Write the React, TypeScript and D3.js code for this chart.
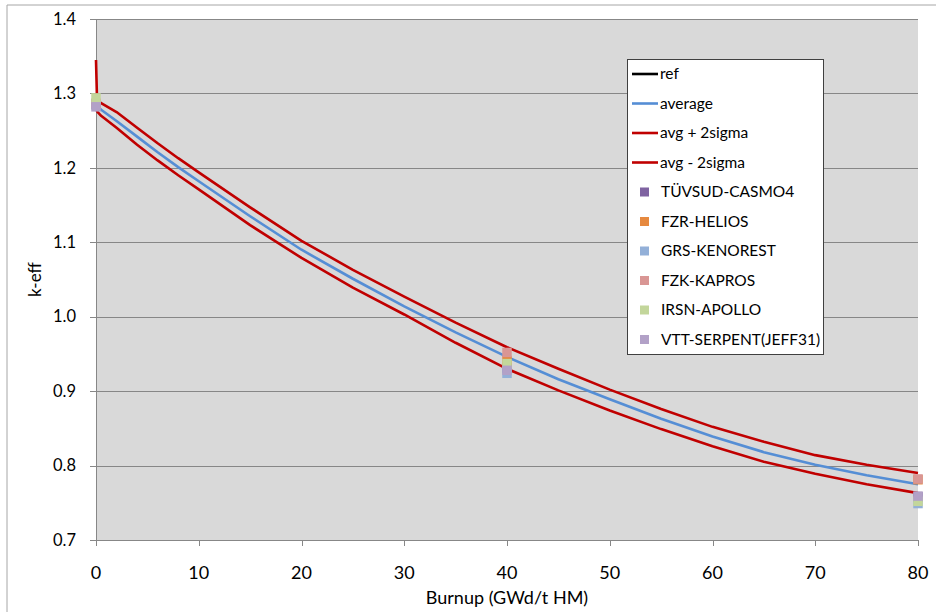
import React, { useEffect, useRef } from 'react';
import * as d3 from 'd3';

// burnup steps for the statistical curves
const burnup = [0, 0.1, 0.5, 2, 4, 6, 8, 10, 15, 20, 25, 30, 35, 40, 45, 50, 55, 60, 65, 70, 75, 80];
const average = [1.286, 1.283, 1.278, 1.263, 1.242, 1.221, 1.201, 1.182, 1.135, 1.090, 1.051, 1.014, 0.979, 0.946, 0.916, 0.889, 0.863, 0.839, 0.818, 0.801, 0.787, 0.775];
const upper = [1.345, 1.292, 1.287, 1.275, 1.254, 1.233, 1.213, 1.194, 1.147, 1.102, 1.063, 1.027, 0.992, 0.959, 0.930, 0.902, 0.876, 0.852, 0.832, 0.814, 0.801, 0.790];
const lower = [1.284, 1.276, 1.270, 1.254, 1.231, 1.210, 1.190, 1.171, 1.123, 1.079, 1.039, 1.003, 0.965, 0.930, 0.901, 0.874, 0.849, 0.826, 0.805, 0.789, 0.775, 0.763];

// code results at the three burnup points
const codeBurnup = [0, 40, 80];
const codes = ['TÜVSUD-CASMO4', 'FZR-HELIOS', 'GRS-KENOREST', 'FZK-KAPROS', 'IRSN-APOLLO', 'VTT-SERPENT(JEFF31)'];
const codeColors = ['#7f63a1', '#e6893f', '#93b0d8', '#d99694', '#c3d69b', '#b2a1c7'];
const codeValues = [
    [1.285, 0.931, 0.758],
    [1.286, 0.941, 0.781],
    [1.285, 0.924, 0.749],
    [1.287, 0.952, 0.782],
    [1.294, 0.937, 0.752],
    [1.282, 0.928, 0.759],
];

const lineNames = ['ref', 'average', 'avg + 2sigma', 'avg - 2sigma'];
const lineColors = ['#000000', '#558ed5', '#c00000', '#c00000'];

const xTicks = [0, 10, 20, 30, 40, 50, 60, 70, 80];
const yTicks = [0.7, 0.8, 0.9, 1.0, 1.1, 1.2, 1.3, 1.4];

const App = () => {
    const svgRef = useRef();
    const width = 936;
    const height = 612;
    const margin = { top: 19, left: 96, right: 18, bottom: 72 };
    const innerWidth = width - margin.left - margin.right;
    const innerHeight = height - margin.top - margin.bottom;

    useEffect(() => {
        const svg = d3.select(svgRef.current);
        svg.selectAll('*').remove();
        const font = 'Lato, "Open Sans", sans-serif';

        // outer chart border (only top & left visible)
        svg.append('path')
            .attr('d', `M7,${height + 2} L7,5 L${width + 2},5`)
            .attr('fill', 'none')
            .attr('stroke', '#a6a6a6');

        const g = svg.append('g').attr('transform', `translate(${margin.left},${margin.top})`);

        const x = d3.scaleLinear().domain([0, 80]).range([0, innerWidth]);
        const y = d3.scaleLinear().domain([0.7, 1.4]).range([innerHeight, 0]);

        g.append('rect')
            .attr('width', innerWidth)
            .attr('height', innerHeight)
            .attr('fill', '#d9d9d9');

        // grid lines + y ticks
        yTicks.forEach(t => {
            g.append('line')
                .attr('x1', -6).attr('x2', innerWidth)
                .attr('y1', Math.round(y(t)) + 0.5).attr('y2', Math.round(y(t)) + 0.5)
                .attr('stroke', '#878787');
            g.append('text')
                .attr('x', -20).attr('y', y(t))
                .attr('dy', '0.35em')
                .attr('text-anchor', 'end')
                .attr('font-family', font).attr('font-size', 16.5)
                .text(t.toFixed(1));
        });

        g.append('line')
            .attr('x1', 0.5).attr('x2', 0.5)
            .attr('y1', 0).attr('y2', innerHeight)
            .attr('stroke', '#878787');

        xTicks.forEach(t => {
            g.append('line')
                .attr('x1', Math.round(x(t)) + 0.5).attr('x2', Math.round(x(t)) + 0.5)
                .attr('y1', innerHeight).attr('y2', innerHeight + 6)
                .attr('stroke', '#878787');
            g.append('text')
                .attr('x', x(t)).attr('y', innerHeight + 33)
                .attr('dy', '0.35em')
                .attr('text-anchor', 'middle')
                .attr('font-family', font).attr('font-size', 18)
                .text(t);
        });

        // curves
        const line = d3.line()
            .x((d: any) => x(d[0]))
            .y((d: any) => y(d[1]));
        [[average, lineColors[1]], [upper, lineColors[2]], [lower, lineColors[3]]].forEach(([vals, color]: any) => {
            g.append('path')
                .datum(burnup.map((b, i) => [b, vals[i]]))
                .attr('fill', 'none')
                .attr('stroke', color)
                .attr('stroke-width', 2.6)
                .attr('stroke-linejoin', 'round')
                .attr('d', line as any);
        });

        // code markers
        const ms = 9.5;
        codes.forEach((c, ci) => {
            codeBurnup.forEach((b, bi) => {
                g.append('rect')
                    .attr('x', x(b) - ms / 2)
                    .attr('y', y(codeValues[ci][bi]) - ms / 2)
                    .attr('width', ms).attr('height', ms)
                    .attr('fill', codeColors[ci]);
            });
        });

        // axis titles
        svg.append('text')
            .attr('x', margin.left + innerWidth / 2).attr('y', 598)
            .attr('dy', '0.35em')
            .attr('text-anchor', 'middle')
            .attr('font-family', font).attr('font-size', 18)
            .text('Burnup (GWd/t HM)');
        svg.append('text')
            .attr('transform', `translate(35,${margin.top + innerHeight / 2}) rotate(-90)`)
            .attr('dy', '0.35em')
            .attr('text-anchor', 'middle')
            .attr('font-family', font).attr('font-size', 17)
            .text('k-eff');

        // legend
        const lg = svg.append('g').attr('transform', 'translate(627,59)');
        lg.append('rect')
            .attr('x', 0.5).attr('y', 0.5)
            .attr('width', 196).attr('height', 295)
            .attr('fill', '#ffffff')
            .attr('stroke', '#404040');
        const rowH = 29.5;
        lineNames.forEach((n, i) => {
            const cy = 15 + i * rowH;
            lg.append('line')
                .attr('x1', 5).attr('x2', 31)
                .attr('y1', cy).attr('y2', cy)
                .attr('stroke', lineColors[i]).attr('stroke-width', 2.6);
            lg.append('text')
                .attr('x', 33).attr('y', cy).attr('dy', '0.35em')
                .attr('font-family', font).attr('font-size', 15.5)
                .text(n);
        });
        codes.forEach((c, i) => {
            const cy = 15 + (i + 4) * rowH;
            lg.append('rect')
                .attr('x', 13).attr('y', cy - 4.5)
                .attr('width', 9).attr('height', 9)
                .attr('fill', codeColors[i]);
            lg.append('text')
                .attr('x', 34).attr('y', cy).attr('dy', '0.35em')
                .attr('font-family', font).attr('font-size', 15.5)
                .text(c);
        });
    }, []);

    return <svg ref={svgRef} width={width} height={height} style={{ position: 'absolute', left: 0, top: 0 }} />;
};

export default App;
